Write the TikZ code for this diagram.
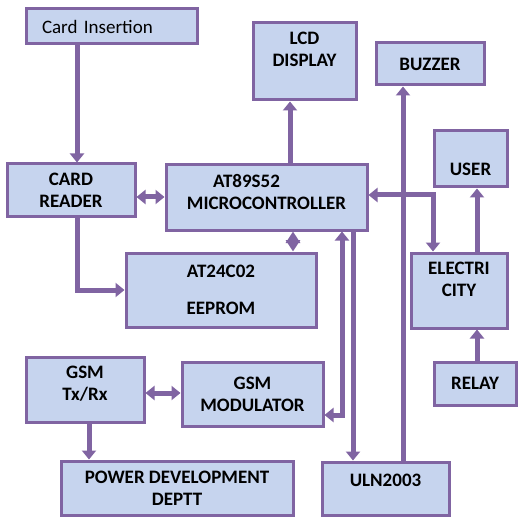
\documentclass[tikz,border=0pt]{standalone}
\usepackage{fontspec}
\setmainfont{Carlito}
\usetikzlibrary{arrows.meta}
\definecolor{boxfill}{HTML}{C6D4EE}
\definecolor{boxline}{HTML}{8064A2}
\newcommand{\boxlift}[2]{\raisebox{#1}[\height][\depth]{\begin{tabular}{@{}c@{}}#2\end{tabular}}}

\begin{document}
\begin{tikzpicture}[x=1pt, y=-1pt,
    blk/.style={draw=boxline, line width=3pt, fill=boxfill, inner sep=0pt,
      align=center, font=\bfseries\fontsize{19}{22}\selectfont},
    con/.style={draw=boxline, line width=5pt},
    >={Triangle[width=14pt,length=9pt]}]
  \useasboundingbox (0,0) rectangle (517,518);

  % 纵向与横向的走线位置
  \foreach \n/\x in {b1/77, b2/290, b3/293, b4/433, b5/342, b6/353, b7/403, b8/477, b9/89} {
    \coordinate (\n) at (\x,0);
  }
  \foreach \n/\y in {h1/197, h3/195, h4/415, h5/393} {
    \coordinate (\n) at (0,\y);
  }

  % 方框
  \node[blk, font=\fontsize{19}{22}\selectfont, minimum width=171pt, minimum height=35pt,
        text width=139pt, align=left] (cardins) at (111.5,26.5) {Card Insertion};
  \node[blk, minimum width=128pt, minimum height=53pt] (reader) at (71,190.5) {CARD\\READER};
  \node[blk, minimum width=201pt, minimum height=65pt] (mcu) at (266.5,197.5)
        {\boxlift{3pt}{\hspace*{-40pt}AT89S52\\MICROCONTROLLER}};
  \node[blk, minimum width=103pt, minimum height=77pt] (lcd) at (304.5,61.5)
        {\boxlift{10pt}{LCD\\DISPLAY}};
  \node[blk, minimum width=108pt, minimum height=42pt] (buzzer) at (430,64) {BUZZER};
  \node[blk, minimum width=73pt, minimum height=56pt] (user) at (470.5,159)
        {\boxlift{-12pt}{USER}};
  \node[blk, minimum width=96pt, minimum height=75pt] (elec) at (459,290.5)
        {\boxlift{9pt}{ELECTRI\\CITY}};
  \node[blk, minimum width=82pt, minimum height=43pt] (relay) at (475,383.5) {RELAY};
  \node[blk, minimum width=127pt, minimum height=53pt] (uln) at (385.5,488.5)
        {\boxlift{6pt}{ULN2003}};
  \node[blk, minimum width=190pt, minimum height=74pt] (eeprom) at (221,290)
        {AT24C02\\[15pt]EEPROM};
  \node[blk, minimum width=118pt, minimum height=65pt] (gsmtx) at (85,389.5)
        {\boxlift{4pt}{GSM\\Tx/Rx}};
  \node[blk, minimum width=141pt, minimum height=64pt] (gsmmod) at (252.5,394)
        {GSM\\MODULATOR};
  \node[blk, minimum width=232pt, minimum height=54pt] (pdd) at (177,488)
        {POWER DEVELOPMENT\\DEPTT};

  % 连线
  \draw[con, ->] (cardins.south -| b1) -- (reader.north -| b1);
  \draw[con, <->] (reader.east |- h1) -- (mcu.west |- h1);
  \draw[con, ->] (reader.south -| b1) |- (eeprom.west);
  \draw[con, ->] (mcu.north -| b2) -- (lcd.south -| b2);
  \draw[con, <->, >={Triangle[width=14pt,length=11.5pt]}] (mcu.south -| b3) -- (eeprom.north -| b3);
  \draw[con, <->] (mcu.east |- h3) -| (elec.north -| b4);
  \draw[con, <->] (mcu.south -| b5) |- (gsmmod.east |- h4);
  \draw[con, ->] (mcu.south -| b6) -- (uln.north -| b6);
  \draw[con, ->] (uln.north -| b7) -- (buzzer.south -| b7);
  \draw[con, ->] (elec.north -| b8) -- (user.south -| b8);
  \draw[con, ->] (relay.north -| b8) -- (elec.south -| b8);
  \draw[con, <->] (gsmtx.east |- h5) -- (gsmmod.west |- h5);
  \draw[con, ->] (gsmtx.south -| b9) -- (pdd.north -| b9);
\end{tikzpicture}
\end{document}
